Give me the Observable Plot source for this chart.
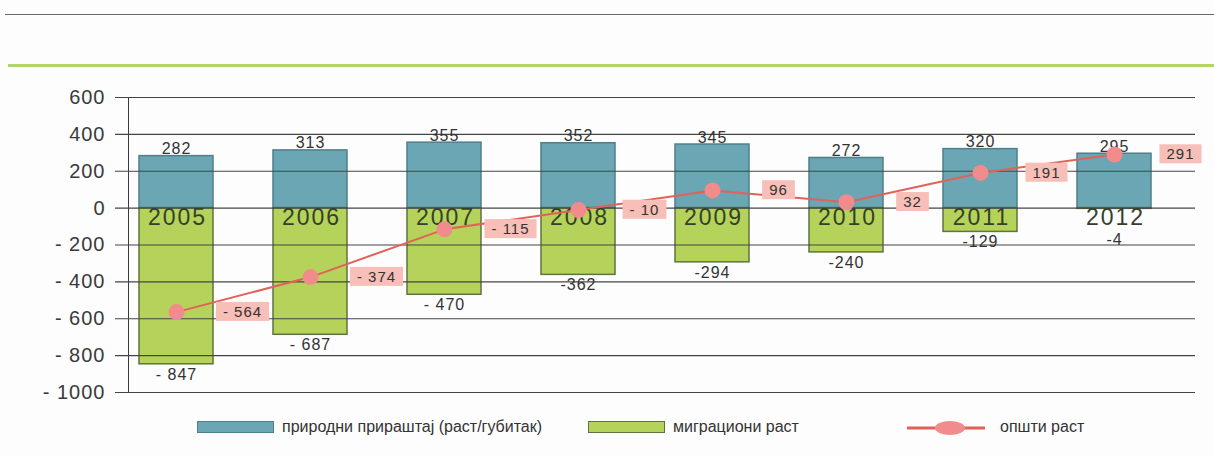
<!DOCTYPE html>
<html>
<head>
<meta charset="utf-8">
<script src="https://cdn.jsdelivr.net/npm/d3@7"></script>
<script src="https://cdn.jsdelivr.net/npm/@observablehq/plot@0.6"></script>
<style>
  html, body { margin: 0; padding: 0; background: #fff; }
  #wrap { position: relative; width: 1214px; height: 455px; overflow: hidden; background: #fdfdfd; }
  .topline { position: absolute; left: 5px; right: 0; top: 14px; height: 1px; background: #6a6a6a; }
  .greenline { position: absolute; left: 8px; right: 0; top: 64px; height: 3px; background: #b3d36b; }
  #chart { position: absolute; left: 0; top: 0; }
  #legend { position: absolute; left: 0; top: 410px; width: 1214px; height: 45px;
            font-family: "Liberation Sans Narrow", "Liberation Sans", Arial, sans-serif; font-size: 16px; color: #333; }
  .sw { position: absolute; top: 11px; width: 77px; height: 12px; box-sizing: border-box; }
  .lab { position: absolute; top: 8px; white-space: nowrap; }
</style>
</head>
<body>
<div id="wrap">
  <div class="topline"></div>
  <div class="greenline"></div>
  <div id="chart"></div>
  <div id="legend"></div>
</div>
<script>
const years = ["2005", "2006", "2007", "2008", "2009", "2010", "2011", "2012"];
const natural = [282, 313, 355, 352, 345, 272, 320, 295];
const migration = [-847, -687, -470, -362, -294, -240, -129, -4];
const total = [-564, -374, -115, -10, 96, 32, 191, 291];
const migLabels = ["- 847", "- 687", "- 470", "-362", "-294", "-240", "-129", "-4"];
const totalLabels = ["- 564", "- 374", "- 115", "- 10", "96", "32", "191", "291"];
const yTicks = [600, 400, 200, 0, -200, -400, -600, -800, -1000];
const yTickLabels = ["600", "400", "200", "0", "- 200", "- 400", "- 600", "- 800", "- 1000"];
const seriesNames = ["природни прираштај (раст/губитак)", "миграциони раст", "општи раст"];

const colNat = "#6aa6b4", colMig = "#b5d35a", colLine = "#e0625a", colDot = "#f28c8c", colBox = "#f7bfb7";

const data = years.map((year, i) => ({
  year, nat: natural[i], mig: migration[i], tot: total[i],
  migLabel: migLabels[i], totLabel: totalLabels[i]
}));

const font = "'Liberation Sans', Arial, sans-serif";

const chart = Plot.plot({
  width: 1214,
  height: 410,
  marginTop: 97,
  marginBottom: 18,
  marginLeft: 128,
  marginRight: 19,
  style: { fontFamily: font, fontSize: "20px", color: "#3a3a3a", background: "transparent", overflow: "visible" },
  x: { type: "band", domain: years, paddingInner: 0.45, paddingOuter: 0.22, insetLeft: -21, insetRight: 12, axis: null },
  y: {
    domain: [-1000, 600],
    ticks: yTicks,
    tickFormat: d => yTickLabels[yTicks.indexOf(d)],
    tickSize: 0,
    tickPadding: 23,
    line: true,
    label: null
  },
  marks: [
    Plot.barY(data, { x: "year", y1: 0, y2: "nat", fill: colNat, stroke: "#4f7f8a", strokeWidth: 1.5 }),
    Plot.barY(data, { x: "year", y1: 0, y2: "mig", fill: colMig, stroke: "#5d7440", strokeWidth: 1.5 }),
    Plot.ruleY(yTicks, { stroke: "#444", strokeWidth: 1.2, insetLeft: -13 }),
    Plot.text(data, { x: "year", y: 0, text: "year", lineAnchor: "top", dy: 1, dx: 1, fontSize: 23, fill: "#34402a" }),
    Plot.text(data, { x: "year", y: "nat", text: d => String(d.nat), lineAnchor: "bottom", dy: -2, fontSize: 16, fill: "#333" }),
    Plot.text(data, { x: "year", y: d => Math.min(d.mig, -115), text: "migLabel", lineAnchor: "top", dy: 4, fontSize: 16, fill: "#333" }),
    Plot.line(data, { x: "year", y: "tot", stroke: colLine, strokeWidth: 2 }),
    Plot.dot(data, { x: "year", y: "tot", r: 8, fill: colDot, stroke: "none" }),
    Plot.text(data, { x: "year", y: "tot", text: "totLabel", dx: 66, fontSize: 15, fill: "#333" })
  ]
});

document.getElementById("chart").appendChild(chart);

// letter spacing to mimic the wide scanned type
const textGroups = chart.querySelectorAll("g[aria-label='text']");
const spacing = ["2px", "1px", "1px", "1px"];
textGroups.forEach((tg, i) => { tg.setAttribute("letter-spacing", spacing[i] || "0px"); });
chart.querySelectorAll("g[aria-label='y-axis tick label'], g[aria-label='y-axis']").forEach(t => {
  t.setAttribute("letter-spacing", "1px");
});

// pink boxes behind total labels (last text mark)
const g = textGroups[textGroups.length - 1];
if (g) {
  g.querySelectorAll("text").forEach(t => {
    const b = t.getBBox();
    const r = document.createElementNS("http://www.w3.org/2000/svg", "rect");
    r.setAttribute("x", b.x - 7);
    r.setAttribute("y", b.y - 1);
    r.setAttribute("width", b.width + 14);
    r.setAttribute("height", b.height + 2);
    r.setAttribute("fill", colBox);
    if (t.getAttribute("transform")) r.setAttribute("transform", t.getAttribute("transform"));
    t.parentNode.insertBefore(r, t);
  });
}

// legend
const legend = document.getElementById("legend");
legend.innerHTML = `
  <div class="sw" style="left:197px;background:${colNat};border:1px solid #4f7f8a"></div>
  <div class="lab" style="left:282px">${seriesNames[0]}</div>
  <div class="sw" style="left:588px;background:${colMig};border:1px solid #5d7440"></div>
  <div class="lab" style="left:673px">${seriesNames[1]}</div>
  <svg style="position:absolute;left:905px;top:8px" width="82" height="20">
    <line x1="2" y1="10" x2="80" y2="10" stroke="${colLine}" stroke-width="3"/>
    <ellipse cx="45" cy="10" rx="15" ry="7" fill="${colDot}"/>
  </svg>
  <div class="lab" style="left:1000px">${seriesNames[2]}</div>
`;
</script>
</body>
</html>
